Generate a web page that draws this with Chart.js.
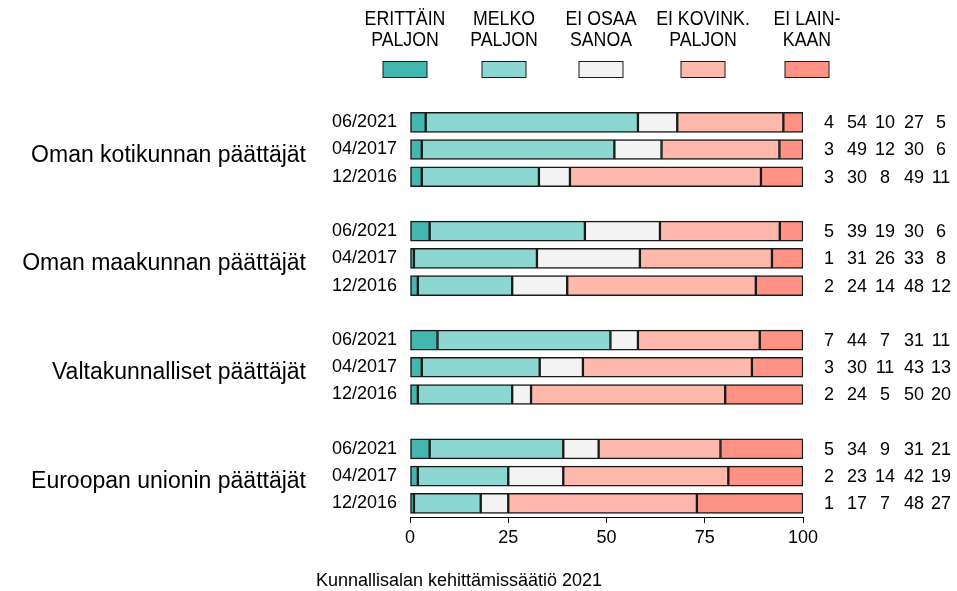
<!DOCTYPE html>
<html><head><meta charset="utf-8">
<script src="https://cdn.jsdelivr.net/npm/chart.js@4/dist/chart.umd.min.js"></script>
<style>html,body{margin:0;padding:0;background:#fff}#wrap{width:957px;height:591px;position:relative}</style>
</head><body><div id="wrap"><canvas id="c" width="957" height="591"></canvas></div>
<script>
// ---------- data ----------
const groups = ['Oman kotikunnan päättäjät', 'Oman maakunnan päättäjät', 'Valtakunnalliset päättäjät', 'Euroopan unionin päättäjät'];
const waves = ['06/2021', '04/2017', '12/2016'];
const seriesLabels = [['ERITTÄIN', 'PALJON'], ['MELKO', 'PALJON'], ['EI OSAA', 'SANOA'], ['EI KOVINK.', 'PALJON'], ['EI LAIN-', 'KAAN']];
const xTicks = [0, 25, 50, 75, 100];
const sourceText = 'Kunnallisalan kehittämissäätiö 2021';

// percentages printed on the right (rows: group x wave)
const pctErittain  = [4, 3, 3,   5, 1, 2,   7, 3, 2,   5, 2, 1];
const pctMelko     = [54, 49, 30, 39, 31, 24, 44, 30, 24, 34, 23, 17];
const pctEiOsaa    = [10, 12, 8,  19, 26, 14, 7, 11, 5,   9, 14, 7];
const pctEiKovink  = [27, 30, 49, 30, 33, 48, 31, 43, 50, 31, 42, 48];
const pctEiLainkaan= [5, 6, 11,   6, 8, 12,   11, 13, 20, 21, 19, 27];

// bar segment lengths
const barErittain  = [4, 3, 3,    5, 1, 2,    7, 3, 2,    5, 2, 1];
const barMelko     = [54, 49, 29.8, 39.5, 31.3, 24, 44, 30, 24, 34, 23, 17];
const barEiOsaa    = [10, 12, 7.9, 19.1, 26.2, 14, 7, 11, 4.8, 9, 14, 7];
const barEiKovink  = [27, 30, 48.6, 30.5, 33.6, 48, 31, 43, 49.4, 31, 42, 48];
const barEiLainkaan= [5, 6, 10.7, 5.9, 7.9, 12, 11, 13, 19.8, 21, 19, 27];

const colors = ['#43B7AF', '#8DD7D2', '#F3F3F3', '#FEB8AC', '#FE9385'];

// ---------- build ----------
const FONT = "'Liberation Sans', Arial, Helvetica, sans-serif";
const categories = [];
const rowIndex = []; // category index of each data row
groups.forEach((g, gi) => {
  waves.forEach((w, wi) => { rowIndex.push(categories.length); categories.push(w); });
  if (gi < groups.length - 1) categories.push('');
});
function spread(arr) {
  const out = new Array(categories.length).fill(null);
  arr.forEach((v, i) => { out[rowIndex[i]] = v; });
  return out;
}
const barSeries = [barErittain, barMelko, barEiOsaa, barEiKovink, barEiLainkaan];
const pctSeries = [pctErittain, pctMelko, pctEiOsaa, pctEiKovink, pctEiLainkaan];

const datasets = barSeries.map((arr, i) => ({
  label: seriesLabels[i].join(' '),
  data: spread(arr),
  backgroundColor: colors[i],
  borderColor: '#1a1a1a',
  borderWidth: 1.5,
  borderSkipped: false,
  barThickness: 20
}));

const numberX = [829, 857, 885, 914, 941];
const legendX = [405, 504, 601, 703, 807];

const textPlugin = {
  id: 'texts',
  afterDraw(chart) {
    const ctx = chart.ctx;
    const ys = chart.scales.y;
    ctx.save();
    ctx.fillStyle = '#000';
    // group titles
    ctx.font = '23px ' + FONT;
    ctx.textAlign = 'right';
    ctx.textBaseline = 'alphabetic';
    groups.forEach((g, gi) => {
      const y = ys.getPixelForValue(rowIndex[gi * 3 + 1]);
      ctx.fillText(g, 306, y + 12);
    });
    // numbers on the right
    ctx.font = '18px ' + FONT;
    ctx.textAlign = 'center';
    ctx.textBaseline = 'middle';
    rowIndex.forEach((ci, r) => {
      const y = ys.getPixelForValue(ci);
      pctSeries.forEach((arr, s) => ctx.fillText(String(arr[r]), numberX[s], y + 1));
    });
    // legend
    seriesLabels.forEach((lines, i) => {
      const cx = legendX[i];
      ctx.fillStyle = colors[i];
      ctx.fillRect(cx - 22, 61.5, 44, 16);
      ctx.strokeStyle = '#1a1a1a';
      ctx.lineWidth = 1;
      ctx.strokeRect(cx - 22, 61.5, 44, 16);
      ctx.fillStyle = '#000';
      ctx.font = '21px ' + FONT;
      ctx.textAlign = 'center';
      ctx.textBaseline = 'middle';
      lines.forEach((t, li) => {
        ctx.save();
        ctx.translate(cx, 19.5 + li * 21);
        ctx.scale(0.845, 1);
        ctx.fillText(t, 0, 0);
        ctx.restore();
      });
    });
    // source
    ctx.font = '18px ' + FONT;
    ctx.textAlign = 'center';
    ctx.textBaseline = 'middle';
    ctx.fillText(sourceText, 459, 581);
    ctx.restore();
  }
};

new Chart(document.getElementById('c'), {
  type: 'bar',
  data: { labels: categories, datasets },
  options: {
    indexAxis: 'y',
    responsive: false,
    animation: false,
    layout: { padding: { top: 108.7, right: 154, bottom: 0, left: 0 } },
    plugins: { legend: { display: false }, tooltip: { enabled: false } },
    scales: {
      x: {
        type: 'linear', stacked: true, min: 0, max: 100, position: 'bottom',
        afterBuildTicks(s) { s.ticks = xTicks.map(v => ({ value: v })); },
        ticks: { color: '#000', font: { family: FONT, size: 18 }, padding: 4, maxRotation: 0 },
        grid: { drawOnChartArea: false, drawTicks: true, tickLength: 6, color: '#000', lineWidth: 1 },
        border: { display: true, color: '#000', width: 1 },
        afterFit(s) { s.height = 74; }
      },
      y: {
        type: 'category', stacked: true, offset: true,
        ticks: { color: '#000', font: { family: FONT, size: 18 }, padding: 13, autoSkip: false },
        grid: { display: false, drawTicks: false },
        border: { display: false },
        afterFit(s) { s.width = 410; }
      }
    }
  },
  plugins: [textPlugin]
});
</script></body></html>
